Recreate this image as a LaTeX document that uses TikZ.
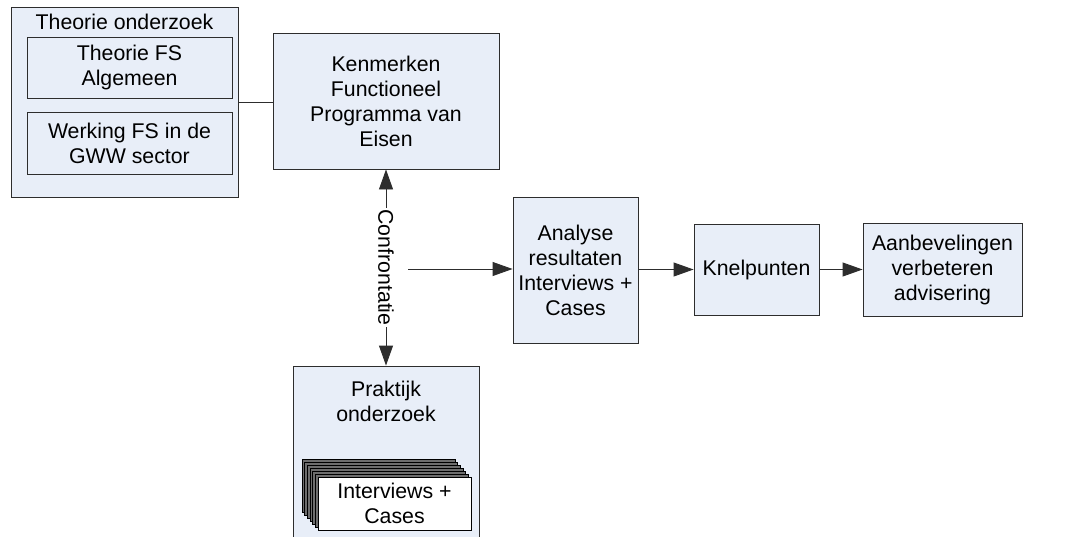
\documentclass[tikz,border=0pt]{standalone}
\usepackage{fontspec}
\setmainfont{Liberation Sans}
\usetikzlibrary{arrows.meta}
\definecolor{boxfill}{RGB}{232,238,248}
\definecolor{edge}{RGB}{45,45,45}
\definecolor{stackfill}{RGB}{110,110,110}
\begin{document}
\begin{tikzpicture}[x=1pt,y=-1pt,
  box/.style={draw=edge, fill=boxfill, line width=0.9pt, align=center, inner sep=0pt,
    font=\fontsize{21.3}{25}\selectfont},
  conn/.style={draw=edge, line width=0.9pt},
  arr/.style={conn, -{Triangle[length=20pt,width=14pt]}},
  darr/.style={conn, {Triangle[length=20pt,width=14pt]}-{Triangle[length=20pt,width=14pt]}},
  lbl/.style={font=\fontsize{21.3}{25}\selectfont, inner sep=0pt}
]
\useasboundingbox[fill=white] (0,0) rectangle (1068,536);

% Theorie onderzoek group
\node[box, minimum width=227pt, minimum height=190pt] (theo) at (124.5,102) {};
\node[lbl] (theot) at (124.5,22) {Theorie onderzoek};
\node[box, minimum width=205pt, minimum height=61pt] (fsalg) at (129.5,67.5) {Theorie FS\\Algemeen};
\node[box, minimum width=205pt, minimum height=62pt] (fsgww) at (129.5,143) {Werking FS in de\\GWW sector};

% Kenmerken
\node[box, minimum width=226pt, minimum height=136pt] (kenm) at (386,101) {Kenmerken\\Functioneel\\Programma van\\Eisen};

% Praktijk onderzoek
\node[box, minimum width=186pt, minimum height=180pt] (prak) at (386,456) {};
\node[lbl, align=center] (prakt) at (386,401) {Praktijk\\onderzoek};

% stacked Interviews + Cases
\foreach \k in {6,5,...,1}{
  \draw[draw=black, fill=stackfill, line width=0.5pt]
    ({318-2.7*\k},{477-3*\k}) rectangle ({471-2.7*\k},{530-3*\k});
}
\node[box, fill=white, draw=black, minimum width=153pt, minimum height=53pt] (intv) at (394.5,503.5) {Interviews +\\Cases};

% right chain
\node[box, minimum width=125pt, minimum height=146pt] (ana) at (575.5,270) {Analyse\\resultaten\\Interviews +\\Cases};
\node[box, minimum width=125pt, minimum height=91pt] (knel) at (756.5,269.5) {Knelpunten};
\node[box, minimum width=159pt, minimum height=93pt] (aanb) at (942.5,269.5) {Aanbevelingen\\verbeteren\\advisering};

% connectors
\draw[conn] (theo.east) -- (theo.east -| kenm.west);
\draw[darr] (kenm.south) -- (prak.north)
  node[midway, rotate=-90, fill=white, inner sep=1pt, font=\fontsize{21.3}{25}\selectfont] (conf) {Confrontatie};
\coordinate (cstart) at (408,269);
\draw[arr] (cstart) -- (cstart -| ana.west);
\draw[arr] (ana.east |- knel.west) -- (knel.west);
\draw[arr] (knel.east) -- (aanb.west);
\end{tikzpicture}
\end{document}
